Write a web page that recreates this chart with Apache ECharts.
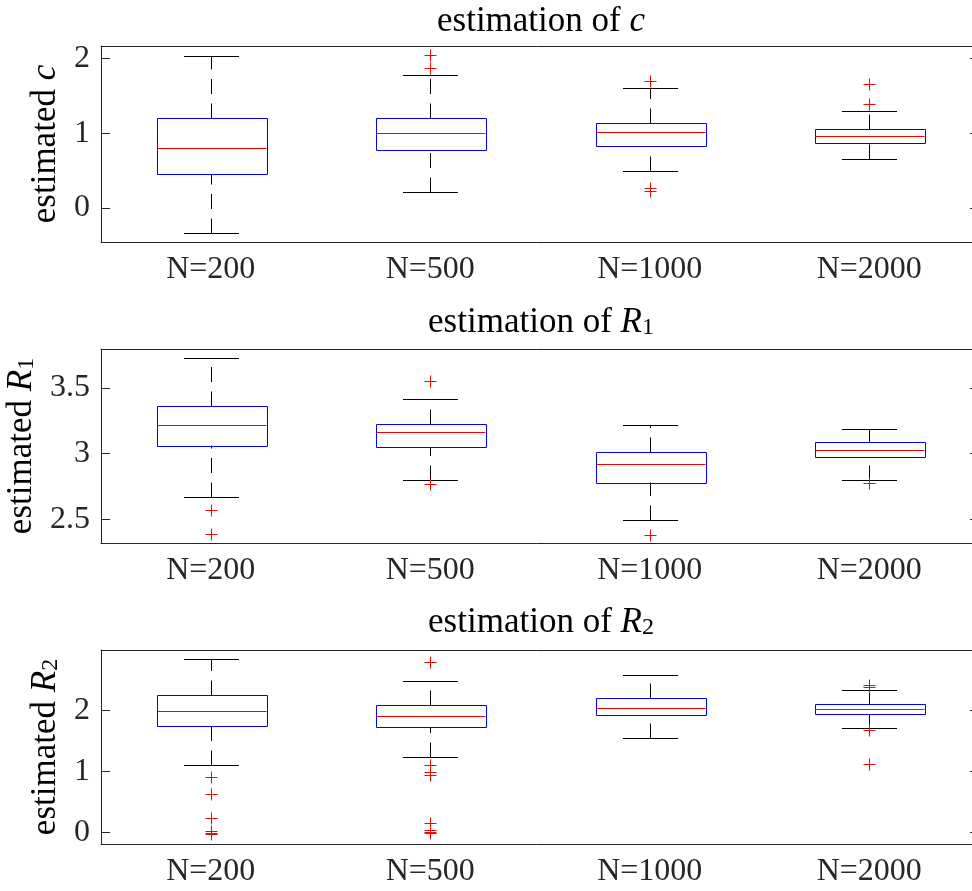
<!DOCTYPE html>
<html>
<head>
<meta charset="utf-8">
<script src="https://cdn.jsdelivr.net/npm/echarts@6/dist/echarts.min.js"></script>
<style>
html,body{margin:0;padding:0;background:#fff;}
#chart{width:972px;height:891px;}
</style>
</head>
<body>
<div id="chart"></div>
<script>
// ---------------- data ----------------
const categories = ['N=200', 'N=500', 'N=1000', 'N=2000'];

// box statistics per category: [lower whisker, Q1, median, Q3, upper whisker]
const boxC = [
  [-0.338, 0.457, 0.795, 1.204, 2.03],
  [0.213, 0.773, 1.0, 1.2, 1.78],
  [0.498, 0.831, 1.013, 1.142, 1.6],
  [0.649, 0.871, 0.96, 1.053, 1.30]
];
const outliersC = [[1, 2.044], [1, 1.87], [2, 1.70], [2, 0.262], [2, 0.23], [3, 1.657], [3, 1.387]];

const boxR1 = [
  [2.666, 3.061, 3.217, 3.362, 3.727],
  [2.797, 3.048, 3.164, 3.225, 3.413],
  [2.493, 2.782, 2.919, 3.015, 3.220],
  [2.797, 2.972, 3.028, 3.086, 3.185]
];
const outliersR1 = [[0, 2.569], [0, 2.384], [1, 3.549], [1, 2.767], [2, 2.379], [3, 2.772]];

const boxR2 = [
  [1.106, 1.743, 1.984, 2.255, 2.843],
  [1.237, 1.732, 1.912, 2.092, 2.484],
  [1.547, 1.928, 2.043, 2.206, 2.572],
  [1.716, 1.939, 2.016, 2.103, 2.332]
];
const outliersR2 = [
  [0, 0.899], [0, 0.627], [0, 0.235], [0, 0.016], [0, -0.01], [0, -0.027],
  [1, 2.789], [1, 1.106], [1, 0.992], [1, 0.932], [1, 0.154], [1, 0.033], [1, 0.0], [1, -0.015],
  [3, 2.418], [3, 2.375], [3, 1.673], [3, 1.118]
];

const yTicksC = [0, 1, 2];
const yTicksR1 = [2.5, 3, 3.5];
const yTicksR2 = [0, 1, 2];

const yRangeC = [-0.454, 2.164];
const yRangeR1 = [2.318, 3.796];
const yRangeR2 = [-0.19, 2.985];

// ---------------- styling ----------------
const FONT = 'Liberation Serif';
const AX = '#262626';
const FS = 32;
const TFS = 35;
const rich = {
  i: { fontFamily: FONT, fontStyle: 'italic', fontSize: TFS, color: '#000' },
  sub: { fontFamily: FONT, fontSize: 24, verticalAlign: 'bottom', color: '#000' }
};

const panels = [
  { title: 'estimation of {i|c}', yname: 'estimated {i|c}', box: boxC, out: outliersC, ticks: yTicksC, range: yRangeC, top: 46, height: 196, gap: 36, titleTop: -1 },
  { title: 'estimation of {i|R}{sub|1}', yname: 'estimated {i|R}{sub|1}', box: boxR1, out: outliersR1, ticks: yTicksR1, range: yRangeR1, top: 349, height: 194, gap: 59, titleTop: 300 },
  { title: 'estimation of {i|R}{sub|2}', yname: 'estimated {i|R}{sub|2}', box: boxR2, out: outliersR2, ticks: yTicksR2, range: yRangeR2, top: 650, height: 194, gap: 35, titleTop: 600 }
];

const LEFT = 101, WIDTH = 878;

function px(v) { return Math.round(v) + 0.5; }

function boxRender(params, api) {
  const idx = api.value(0);
  const lo = api.coord([idx, api.value(1)]);
  const q1 = api.coord([idx, api.value(2)]);
  const md = api.coord([idx, api.value(3)]);
  const q3 = api.coord([idx, api.value(4)]);
  const hi = api.coord([idx, api.value(5)]);
  const band = api.size([1, 0])[0];
  const bw = band * 0.5, cw = band * 0.25;
  const x = px(lo[0]);
  const dashed = { stroke: '#000', lineWidth: 1, lineDash: [15, 9.5], fill: null };
  const solid = c => ({ stroke: c, lineWidth: 1, fill: null });
  return {
    type: 'group',
    children: [
      { type: 'line', shape: { x1: x, y1: px(lo[1]), x2: x, y2: px(q1[1]) }, style: dashed },
      { type: 'line', shape: { x1: x, y1: px(q3[1]), x2: x, y2: px(hi[1]) }, style: dashed },
      { type: 'line', shape: { x1: Math.round(x - cw / 2), y1: px(lo[1]), x2: Math.round(x + cw / 2), y2: px(lo[1]) }, style: solid('#000') },
      { type: 'line', shape: { x1: Math.round(x - cw / 2), y1: px(hi[1]), x2: Math.round(x + cw / 2), y2: px(hi[1]) }, style: solid('#000') },
      { type: 'rect', shape: { x: px(x - bw / 2), y: px(q3[1]), width: Math.round(bw), height: Math.round(q1[1] - q3[1]) }, style: solid('#0000ff') },
      { type: 'line', shape: { x1: px(x - bw / 2), y1: px(md[1]), x2: px(x + bw / 2), y2: px(md[1]) }, style: solid('#ff0000') }
    ]
  };
}

function plusRender(params, api) {
  const p = api.coord([api.value(0), api.value(1)]);
  const x = px(p[0]), y = px(p[1]), s = 6;
  const st = { stroke: '#ff0000', lineWidth: 1, fill: null };
  return {
    type: 'group',
    children: [
      { type: 'line', shape: { x1: x - s, y1: y, x2: x + s, y2: y }, style: st },
      { type: 'line', shape: { x1: x, y1: y - s, x2: x, y2: y + s }, style: st }
    ]
  };
}

const grid = [], xAxis = [], yAxis = [], series = [], title = [];
panels.forEach((p, k) => {
  grid.push({ left: LEFT, width: WIDTH, top: p.top, height: p.height, containLabel: false, outerBoundsMode: 'none' });
  title.push({
    text: p.title, left: LEFT + WIDTH / 2 - 4, top: p.titleTop, textAlign: 'center',
    textStyle: { fontFamily: FONT, fontSize: TFS, fontWeight: 'normal', color: '#000', rich: rich }
  });
  const lineStyle = { color: AX, width: 1 };
  xAxis.push({
    type: 'category', gridIndex: k, position: 'bottom', data: categories,
    axisLine: { onZero: false, lineStyle },
    axisTick: { inside: true, length: 9, alignWithLabel: true, lineStyle },
    axisLabel: { color: AX, fontFamily: FONT, fontSize: FS, margin: 12 },
    splitLine: { show: false }
  });
  xAxis.push({
    type: 'category', gridIndex: k, position: 'top', data: categories,
    axisLine: { onZero: false, lineStyle },
    axisTick: { inside: true, length: 9, alignWithLabel: true, lineStyle },
    axisLabel: { show: false },
    splitLine: { show: false }
  });
  yAxis.push({
    type: 'value', gridIndex: k, position: 'left', min: p.range[0], max: p.range[1],
    name: p.yname, nameLocation: 'middle', nameGap: p.gap, nameRotate: 90,
    nameTextStyle: { fontFamily: FONT, fontSize: TFS, color: '#000', rich: rich },
    axisLine: { show: true, onZero: false, lineStyle },
    axisTick: { show: true, inside: true, length: 9, lineStyle, customValues: p.ticks },
    axisLabel: { color: AX, fontFamily: FONT, fontSize: FS, margin: 11, customValues: p.ticks },
    splitLine: { show: false }
  });
  yAxis.push({
    type: 'value', gridIndex: k, position: 'right', min: p.range[0], max: p.range[1],
    axisLine: { show: true, onZero: false, lineStyle },
    axisTick: { show: true, inside: true, length: 9, lineStyle, customValues: p.ticks },
    axisLabel: { show: false, customValues: p.ticks },
    splitLine: { show: false }
  });
  series.push({
    type: 'custom', xAxisIndex: 2 * k, yAxisIndex: 2 * k, renderItem: boxRender,
    data: p.box.map((b, i) => [i, b[0], b[1], b[2], b[3], b[4]]),
    encode: { x: 0, y: [1, 2, 3, 4, 5] }, silent: true, clip: false, z: 2
  });
  series.push({
    type: 'custom', xAxisIndex: 2 * k, yAxisIndex: 2 * k, renderItem: plusRender,
    data: p.out, encode: { x: 0, y: 1 }, silent: true, clip: false, z: 5
  });
});

const chart = echarts.init(document.getElementById('chart'), null, { renderer: 'canvas' });
chart.setOption({ animation: false, backgroundColor: '#fff', title, grid, xAxis, yAxis, series });
</script>
</body>
</html>
